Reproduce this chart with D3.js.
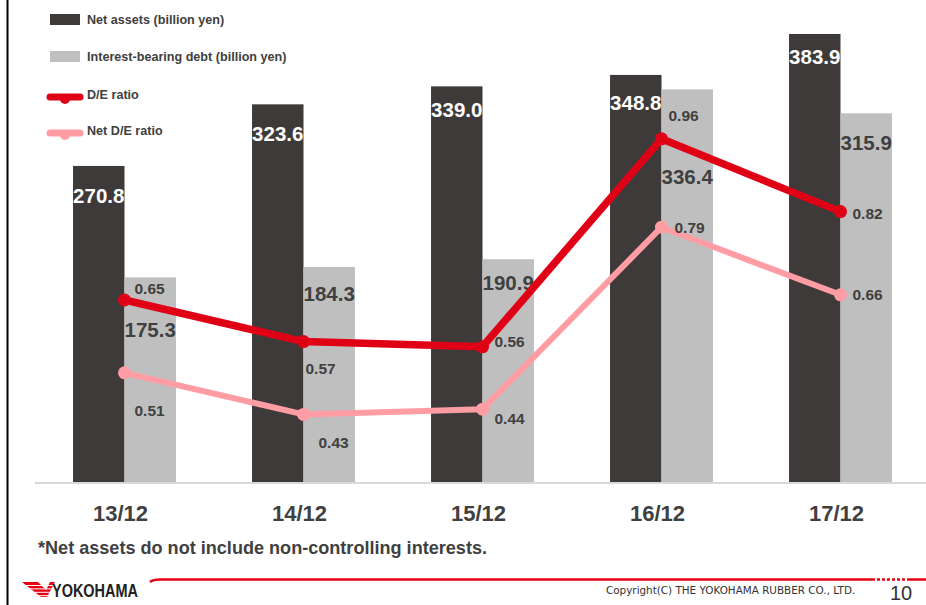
<!DOCTYPE html>
<html>
<head>
<meta charset="utf-8">
<script src="https://cdn.jsdelivr.net/npm/d3@7"></script>
<style>
  body { margin: 0; background: #fff; }
  svg { display: block; font-family: "Liberation Sans", Arial, sans-serif; }
</style>
</head>
<body>
<div id="chart"></div>
<script>
// data
const years = ["13/12", "14/12", "15/12", "16/12", "17/12"];
const netAssets = [270.8, 323.6, 339.0, 348.8, 383.9];
const debt = [175.3, 184.3, 190.9, 336.4, 315.9];
const deRatio = [0.65, 0.57, 0.56, 0.96, 0.82];
const netDeRatio = [0.51, 0.43, 0.44, 0.79, 0.66];

// label nudges (px) so the numbers dodge the lines, like on the slide
const assetLabelDy = [30, 29, 23, 28, 23];
const debtLabelDy = [52, 27, 23, 87, 29];
const deLabelShift = [[10, -12], [2, 27], [12, -5], [7, -23], [12, 2]];
const netLabelShift = [[10, 38], [15, 28], [12, 9], [13, 0], [12, 0]];

const W = 926, H = 605;
const baseY = 482;
const textColor = "#404040";
const darkBar = "#3e3a39", greyBar = "#bfbfbf";
const red = "#e00016", pink = "#ff9ca4";

const svg = d3.select("#chart").append("svg")
    .attr("width", W)
    .attr("height", H);

// left frame line
svg.append("line")
    .attr("x1", 7.5).attr("x2", 7.5)
    .attr("y1", 0).attr("y2", H)
    .attr("stroke", "#000").attr("stroke-width", 2);

let x = d3.scaleBand()
    .domain(years)
    .range([35, 930])
    .paddingInner(0.425)
    .paddingOuter(0.2125);

let xs = d3.scaleBand()
    .domain(["assets", "debt"])
    .range([0, x.bandwidth()]);

let y = d3.scaleLinear()
    .domain([0, 413])
    .range([baseY, 0]);

let yr = d3.scaleLinear()
    .domain([0.3, 1.227])
    .range([baseY, 0]);

const mid = d => x(d) + x.bandwidth() / 2;

// bars
const groups = svg.append("g").selectAll("g")
    .data(years)
    .enter().append("g")
    .attr("transform", d => "translate(" + x(d) + ",0)");

groups.append("rect")
    .attr("x", xs("assets"))
    .attr("y", (d, i) => y(netAssets[i]))
    .attr("width", xs.bandwidth())
    .attr("height", (d, i) => baseY - y(netAssets[i]))
    .attr("fill", darkBar);

groups.append("rect")
    .attr("x", xs("debt"))
    .attr("y", (d, i) => y(debt[i]))
    .attr("width", xs.bandwidth())
    .attr("height", (d, i) => baseY - y(debt[i]))
    .attr("fill", greyBar);

// baseline
svg.append("line")
    .attr("x1", 35).attr("x2", W)
    .attr("y1", baseY + 1).attr("y2", baseY + 1)
    .attr("stroke", "#d9d9d9").attr("stroke-width", 2);

// bar value labels
groups.append("text")
    .attr("x", xs("assets") + xs.bandwidth() / 2)
    .attr("y", (d, i) => y(netAssets[i]) + assetLabelDy[i])
    .attr("text-anchor", "middle")
    .attr("dominant-baseline", "central")
    .attr("fill", "#fff")
    .style("font-size", "20.5px").style("font-weight", "bold")
    .text((d, i) => netAssets[i].toFixed(1));

groups.append("text")
    .attr("x", xs("debt") + xs.bandwidth() / 2)
    .attr("y", (d, i) => y(debt[i]) + debtLabelDy[i])
    .attr("text-anchor", "middle")
    .attr("dominant-baseline", "central")
    .attr("fill", textColor)
    .style("font-size", "20.5px").style("font-weight", "bold")
    .text((d, i) => debt[i].toFixed(1));

// ratio lines
function drawRatio(values, color, width, shifts) {
    let line = d3.line()
        .x((d, i) => mid(years[i]))
        .y(d => yr(d));

    svg.append("path")
        .datum(values)
        .attr("d", line)
        .attr("fill", "none")
        .attr("stroke", color)
        .attr("stroke-width", width)
        .attr("stroke-linejoin", "round");

    svg.append("g").selectAll("circle")
        .data(values)
        .enter().append("circle")
        .attr("cx", (d, i) => mid(years[i]))
        .attr("cy", d => yr(d))
        .attr("r", 6.5)
        .attr("fill", color);

    svg.append("g").selectAll("text")
        .data(values)
        .enter().append("text")
        .attr("x", (d, i) => mid(years[i]) + shifts[i][0])
        .attr("y", (d, i) => yr(d) + shifts[i][1])
        .attr("dominant-baseline", "central")
        .attr("fill", textColor)
        .style("font-size", "15.5px").style("font-weight", "bold")
        .text(d => d.toFixed(2));
}

drawRatio(netDeRatio, pink, 6, netLabelShift);
drawRatio(deRatio, red, 7.5, deLabelShift);

// category labels
svg.append("g").selectAll("text")
    .data(years)
    .enter().append("text")
    .attr("x", d => mid(d) - 4)
    .attr("y", 521)
    .attr("text-anchor", "middle")
    .attr("fill", textColor)
    .style("font-size", "22px").style("font-weight", "bold")
    .text(d => d);

// legend
const legend = svg.append("g");
const legendItems = [
    {label: "Net assets (billion yen)", type: "bar", color: darkBar, cy: 20},
    {label: "Interest-bearing debt (billion yen)", type: "bar", color: greyBar, cy: 57},
    {label: "D/E ratio", type: "line", color: red, cy: 95},
    {label: "Net D/E ratio", type: "line", color: pink, cy: 131}
];
legendItems.forEach(function (item) {
    if (item.type === "bar") {
        legend.append("rect")
            .attr("x", 50).attr("y", item.cy - 6)
            .attr("width", 30).attr("height", 11)
            .attr("fill", item.color);
    } else {
        legend.append("line")
            .attr("x1", 50).attr("x2", 80)
            .attr("y1", item.cy + 2).attr("y2", item.cy + 2)
            .attr("stroke", item.color).attr("stroke-width", 7)
            .attr("stroke-linecap", "round");
        legend.append("circle")
            .attr("cx", 65).attr("cy", item.cy + 4)
            .attr("r", 5).attr("fill", item.color);
    }
    legend.append("text")
        .attr("x", 87).attr("y", item.cy)
        .attr("dominant-baseline", "central")
        .attr("fill", textColor)
        .style("font-size", "12.6px").style("font-weight", "bold")
        .text(item.label);
});

// footnote
svg.append("text")
    .attr("x", 38).attr("y", 554)
    .attr("textLength", 449).attr("lengthAdjust", "spacingAndGlyphs")
    .attr("fill", textColor)
    .style("font-size", "17.5px").style("font-weight", "bold")
    .text("*Net assets do not include non-controlling interests.");

// footer: logo, red rule, copyright, page number
const footer = svg.append("g");
footer.append("path")
    .attr("d", "M22,582 L38,582 L46,590 L50,582 L55,582 L47,597 L41,597 Z")
    .attr("fill", "#e60012");
for (let k = 0; k < 4; k++) {
    footer.append("line")
        .attr("x1", 20).attr("x2", 56)
        .attr("y1", 585.5 + k * 3.4).attr("y2", 585.5 + k * 3.4)
        .attr("stroke", "#fff").attr("stroke-width", 1);
}
footer.append("text")
    .attr("x", 52).attr("y", 597)
    .attr("textLength", 86).attr("lengthAdjust", "spacingAndGlyphs")
    .attr("fill", "#222")
    .style("font-size", "19px").style("font-weight", "bold")
    .text("YOKOHAMA");

footer.append("path")
    .attr("d", "M150,582 Q153,579.5 160,579.5 L872,579.5")
    .attr("fill", "none").attr("stroke", "#e60012").attr("stroke-width", 2.5);
footer.append("line")
    .attr("x1", 872).attr("x2", 907)
    .attr("y1", 579.5).attr("y2", 579.5)
    .attr("stroke", "#e60012").attr("stroke-width", 2.5)
    .attr("stroke-dasharray", "3,2");
footer.append("line")
    .attr("x1", 907).attr("x2", W)
    .attr("y1", 579.5).attr("y2", 579.5)
    .attr("stroke", "#e60012").attr("stroke-width", 2.5);

footer.append("text")
    .attr("x", 606).attr("y", 594)
    .attr("fill", "#333")
    .style("font-family", "'DejaVu Sans', Verdana, sans-serif")
    .style("font-size", "10.4px")
    .text("Copyright(C) THE YOKOHAMA RUBBER CO., LTD.");

footer.append("text")
    .attr("x", 890).attr("y", 600)
    .attr("fill", "#333")
    .style("font-size", "20px")
    .text("10");
</script>
</body>
</html>
